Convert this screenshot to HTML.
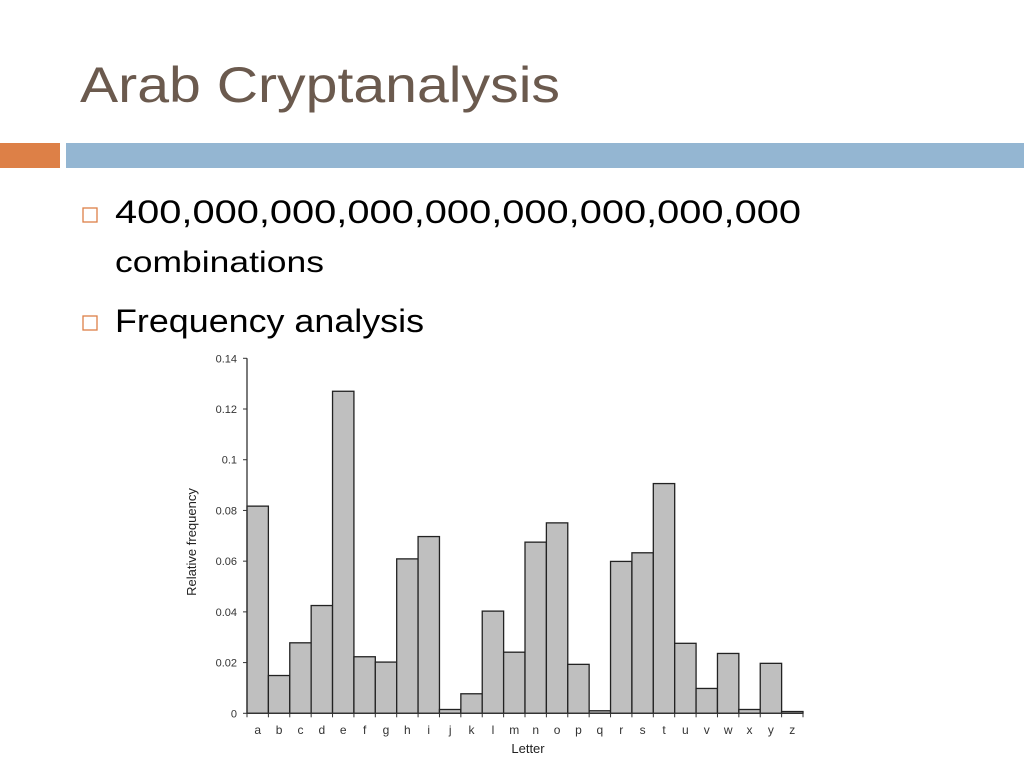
<!DOCTYPE html>
<html><head><meta charset="utf-8"><style>
html,body{margin:0;padding:0;background:#fff;}
svg{display:block;font-family:"Liberation Sans",sans-serif;}
</style></head><body>
<svg id="slide" width="1024" height="768" viewBox="0 0 1024 768">
<text x="80" y="102" font-size="50" fill="#6b5a4e" textLength="480" lengthAdjust="spacingAndGlyphs">Arab Cryptanalysis</text>
<rect x="0" y="143" width="60" height="25" fill="#dd8047"/>
<rect x="66" y="143" width="958" height="25" fill="#94b6d2"/>
<rect x="83" y="208" width="14" height="14" fill="none" stroke="#dd8047" stroke-width="1.3"/>
<text x="115" y="223" font-size="32" fill="#000" textLength="686" lengthAdjust="spacingAndGlyphs">400,000,000,000,000,000,000,000,000</text>
<text x="115" y="272" font-size="30" fill="#000" textLength="209" lengthAdjust="spacingAndGlyphs">combinations</text>
<rect x="83" y="316" width="14" height="14" fill="none" stroke="#dd8047" stroke-width="1.3"/>
<text x="115" y="332" font-size="32" fill="#000" textLength="309" lengthAdjust="spacingAndGlyphs">Frequency analysis</text>
<g id="chart"></g>
</svg>
<script>
const letters = ['a','b','c','d','e','f','g','h','i','j','k','l','m','n','o','p','q','r','s','t','u','v','w','x','y','z'];
const freqs = [0.0817,0.0149,0.0278,0.0425,0.127,0.0223,0.0202,0.0609,0.0697,0.0015,0.0077,0.0403,0.0241,0.0675,0.0751,0.0193,0.001,0.0599,0.0633,0.0906,0.0276,0.0098,0.0236,0.0015,0.0197,0.0007];
const yTicks = [0,0.02,0.04,0.06,0.08,0.1,0.12,0.14];
const yTickLabels = ['0','0.02','0.04','0.06','0.08','0.1','0.12','0.14'];

const NS='http://www.w3.org/2000/svg';
const g=document.getElementById('chart');
const x0=247, x1=803, yBase=713.3, yTop=358.3, yMax=0.14;
const bw=(x1-x0)/letters.length;
function xs(i){return x0+i*bw;}
function ys(v){return yBase-(v/yMax)*(yBase-yTop);}
function mk(tag,attrs){const e=document.createElementNS(NS,tag);for(const k in attrs)e.setAttribute(k,attrs[k]);g.appendChild(e);return e;}

freqs.forEach((v,i)=>{
  const r=mk('rect',{x:xs(i),y:ys(v),width:bw,height:yBase-ys(v),fill:'#bfbfbf',stroke:'#222','stroke-width':1.3});
  
  
});
const ya=mk('line',{x1:x0,y1:yTop,x2:x0,y2:yBase,stroke:'#333','stroke-width':1.3});


const xa=mk('line',{x1:x0,y1:yBase,x2:x1,y2:yBase,stroke:'#333','stroke-width':1.3});


yTicks.forEach((t,i)=>{
  const y=ys(t);
  const tk=mk('line',{x1:x0-4,y1:y,x2:x0,y2:y,stroke:'#333','stroke-width':1});
  
  
  const tx=mk('text',{x:x0-10,y:y+4,'font-size':11,fill:'#333','text-anchor':'end'});
  tx.textContent=yTickLabels[i];
  
  
});
for(let i=0;i<=letters.length;i++){
  const tk=mk('line',{x1:xs(i),y1:yBase,x2:xs(i),y2:yBase+4,stroke:'#333','stroke-width':1});
  
  
}
letters.forEach((l,i)=>{
  const tx=mk('text',{x:xs(i)+bw/2,y:734,'font-size':12,fill:'#333','text-anchor':'middle'});
  tx.textContent=l;
  
  
});
const xt=mk('text',{x:528,y:753,'font-size':13,fill:'#222','text-anchor':'middle'});
xt.textContent='Letter';


const yt=mk('text',{x:0,y:0,'font-size':13,fill:'#222','text-anchor':'middle',transform:'translate(196,542) rotate(-90)'});
yt.textContent='Relative frequency';


</script>
</body></html>
